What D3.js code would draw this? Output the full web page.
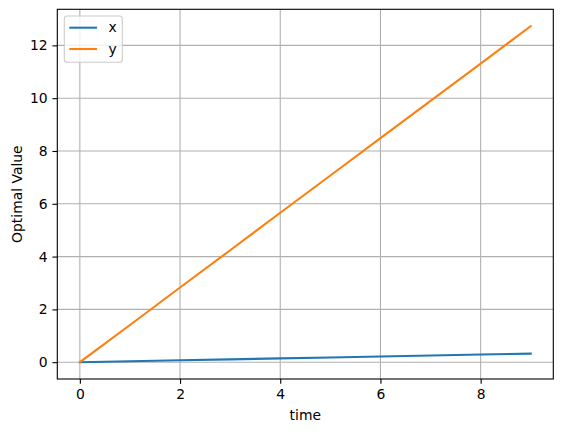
<!DOCTYPE html>
<html>
<head>
<meta charset="utf-8">
<script src="https://cdn.jsdelivr.net/npm/d3@7"></script>
<style>
  body { margin: 0; background: #fff; }
  svg { display: block; font-family: "DejaVu Sans", sans-serif; }
</style>
</head>
<body>
<div id="chart"></div>
<script>
// data
const time = [0, 1, 2, 3, 4, 5, 6, 7, 8, 9];
const xValues = [0, 0.036, 0.072, 0.108, 0.144, 0.18, 0.217, 0.253, 0.289, 0.325];
const yValues = [0, 1.41, 2.83, 4.24, 5.66, 7.07, 8.49, 9.90, 11.31, 12.73];
const seriesNames = ["x", "y"];
const xTicks = [0, 2, 4, 6, 8];
const yTicks = [0, 2, 4, 6, 8, 10, 12];

const width = 562, height = 432;
// plot area edges
const padL = 57.3, padR = 553.3, padT = 9.3, padB = 379;
const colors = ["#1f77b4", "#ff7f0e"];
const fs = 13.9;

const svg = d3.select("#chart").append("svg")
  .attr("width", width)
  .attr("height", height);

// matplotlib style 5% margins
function padded(ext) {
  const d = ext[1] - ext[0];
  return [ext[0] - d * 0.05, ext[1] + d * 0.05];
}
const allY = xValues.concat(yValues);
const x = d3.scaleLinear().domain(padded(d3.extent(time))).range([padL, padR]);
const y = d3.scaleLinear().domain(padded(d3.extent(allY))).range([padB, padT]);

// grid
const grid = svg.append("g");
grid.selectAll(".vg").data(xTicks).join("line")
  .attr("x1", d => x(d)).attr("x2", d => x(d))
  .attr("y1", padT).attr("y2", padB)
  .attr("stroke", "#b0b0b0").attr("stroke-width", 1.1);
grid.selectAll(".hg").data(yTicks).join("line")
  .attr("x1", padL).attr("x2", padR)
  .attr("y1", d => y(d)).attr("y2", d => y(d))
  .attr("stroke", "#b0b0b0").attr("stroke-width", 1.1);

// lines
svg.append("clipPath").attr("id", "clip")
  .append("rect").attr("x", padL).attr("y", padT)
  .attr("width", padR - padL).attr("height", padB - padT);

const series = [xValues, yValues];
const line = d3.line().x((d, i) => x(time[i])).y(d => y(d));
svg.append("g").attr("clip-path", "url(#clip)")
  .selectAll("path").data(series).join("path")
  .attr("d", d => line(d))
  .attr("fill", "none")
  .attr("stroke", (d, i) => colors[i])
  .attr("stroke-width", 2.08)
  .attr("stroke-linecap", "square");

// axes
const xAxis = svg.append("g")
  .attr("transform", `translate(0,${padB})`)
  .call(d3.axisBottom(x).tickValues(xTicks).tickSize(4.86).tickPadding(4.86).tickSizeOuter(0));
const yAxis = svg.append("g")
  .attr("transform", `translate(${padL},0)`)
  .call(d3.axisLeft(y).tickValues(yTicks).tickSize(4.86).tickPadding(4.86).tickSizeOuter(0));
[xAxis, yAxis].forEach(a => {
  a.select(".domain").remove();
  a.selectAll(".tick line").attr("stroke", "#000").attr("stroke-width", 1.1);
  a.selectAll(".tick text")
    .attr("fill", "#000")
    .style("font-size", fs + "px")
    .style("font-family", "DejaVu Sans");
});

// spines
svg.append("rect")
  .attr("x", padL).attr("y", padT)
  .attr("width", padR - padL).attr("height", padB - padT)
  .attr("fill", "none").attr("stroke", "#000").attr("stroke-width", 1.1);

// axis labels
svg.append("text")
  .attr("x", (padL + padR) / 2).attr("y", 420.3)
  .attr("text-anchor", "middle")
  .style("font-size", fs + "px")
  .text("time");
svg.append("text")
  .attr("transform", `translate(21.5,${(padT + padB) / 2}) rotate(-90)`)
  .attr("text-anchor", "middle")
  .style("font-size", fs + "px")
  .text("Optimal Value");

// legend
const lg = svg.append("g");
lg.append("rect")
  .attr("x", 64.3).attr("y", 16)
  .attr("width", 58).attr("height", 46.3)
  .attr("rx", 2.8)
  .attr("fill", "#fff").attr("fill-opacity", 0.8)
  .attr("stroke", "#cccccc").attr("stroke-width", 1.1);
const items = lg.selectAll(".item").data(seriesNames).join("g")
  .attr("transform", (d, i) => `translate(0,${27.7 + i * 21.3})`);
items.append("line")
  .attr("x1", 69.3).attr("x2", 97.1)
  .attr("stroke", (d, i) => colors[i])
  .attr("stroke-width", 2.08);
items.append("text")
  .attr("x", 108.4).attr("y", 4.6)
  .style("font-size", fs + "px")
  .text(d => d);
</script>
</body>
</html>
